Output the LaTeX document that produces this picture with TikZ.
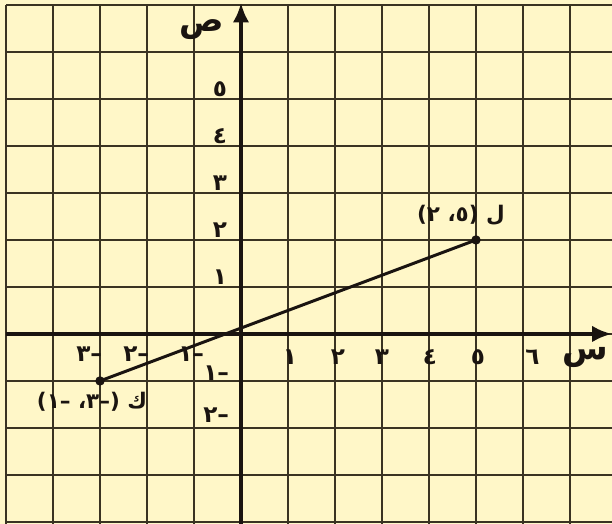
\documentclass[tikz,border=0pt]{standalone}
\usepackage{fontspec}
\usepackage{tikz}
\usepackage{xcolor}
\usetikzlibrary{arrows.meta}
\TeXXeTstate=1
\newfontfamily\arabicfont[Script=Arabic]{DejaVu Sans}
\definecolor{paper}{HTML}{FFF7C8}
\definecolor{gridink}{HTML}{3A3322}
\definecolor{ink}{HTML}{1A1410}

\begin{document}
\begin{tikzpicture}[x=1cm,y=1cm,
    ticklbl/.style={font=\arabicfont\bfseries\fontsize{14}{16}\selectfont,text=ink,inner sep=0pt},
    ptlbl/.style={font=\arabicfont\bfseries\fontsize{13}{15}\selectfont,text=ink,inner sep=0pt},
    axlbl/.style={font=\arabicfont\bfseries\fontsize{20}{22}\selectfont,text=ink,inner sep=0pt}]
    \path[use as bounding box,fill=paper] (-5.128,-4.043) rectangle (7.894,7.106);
    % grid
    \draw[line width=1.2pt,color=gridink] (-5,-4.043) grid (7.894,7);
    % axes
    \draw[line width=2.4pt,color=ink,-{Latex[length=12pt,width=10pt]}] (-5,0) -- (7.894,0);
    \draw[line width=2.4pt,color=ink,-{Latex[length=12pt,width=10pt]}] (0,-4.043) -- (0,7.05);
    \node[axlbl] (ylbl) at (-0.83,6.48) {ص};
    \node[axlbl] (xlbl) at (7.32,-0.5) {س};
    % tick labels
    \foreach \n/\d/\px in {1/١/1.04,2/٢/2.06,3/٣/3.0,4/٤/4.02,5/٥/5.04,6/٦/6.2}
      \node[ticklbl] (xt\n) at (\px,-0.49) {\d};
    \foreach \n/\d in {1/١,2/٢,3/٣,4/٤,5/٥}
      \node[ticklbl] (yt\n) at (-0.45,\n+0.2) {\d};
    \node[ticklbl] (xtm3) at (-3.23,-0.42) {–٣};
    \node[ticklbl] (xtm2) at (-2.23,-0.42) {–٢};
    \node[ticklbl] (xtm1) at (-1.06,-0.42) {–١};
    \node[ticklbl] (ytm1) at (-0.53,-0.83) {–١};
    \node[ticklbl] (ytm2) at (-0.53,-1.72) {–٢};
    % segment KL
    \coordinate (K) at (-3,-1);
    \coordinate (L) at (5,2);
    \draw[line width=1.8pt,color=ink] (K) -- (L);
    \fill[ink] (K) circle (0.1);
    \fill[ink] (L) circle (0.1);
    \node[ptlbl] (lblL) at (4.68,2.53) {\beginR ل (٥، ٢)\endR};
    \node[ptlbl] (lblK) at (-3.17,-1.45) {\beginR ك (–٣، –١)\endR};
\end{tikzpicture}
\end{document}
